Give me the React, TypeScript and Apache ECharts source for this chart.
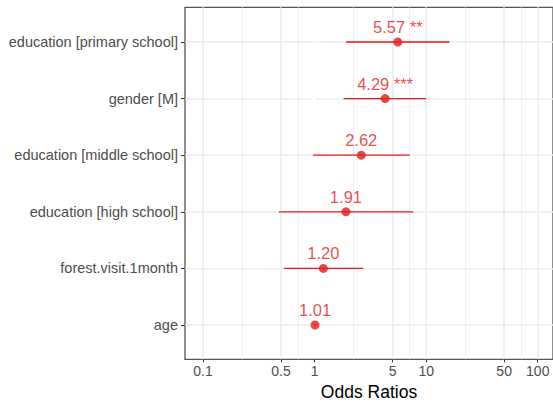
import React, { useEffect, useRef } from "react";
import * as echarts from "echarts";

// Terms, bottom to top as they appear on the category axis
const terms = [
  "age",
  "forest.visit.1month",
  "education [high school]",
  "education [middle school]",
  "gender [M]",
  "education [primary school]",
];
const estimates = [1.01, 1.2, 1.91, 2.62, 4.29, 5.57];
const ciLow = [0.99, 0.53, 0.48, 0.97, 1.82, 1.92];
const ciHigh = [1.03, 2.73, 7.66, 7.11, 10.0, 16.2];
const stars = ["", "", "", "", "***", "**"];

// x-axis breaks
const majorBreaks = [0.1, 0.5, 1, 5, 10, 50, 100];
const minorBreaks = [0.2239, 0.7079, 2.2387, 7.0795, 22.387, 70.795];
const referenceValue = 1;

const X_MIN = 0.069;
const X_MAX = 137;
const RED = "#e41a1c";
const FONT = "'Liberation Sans', Arial, sans-serif";
const GRID_COLOR = "#ebebeb";

export default function App() {
  const ref = useRef<HTMLDivElement>(null);

  useEffect(() => {
    if (!ref.current) return;
    const chart = echarts.init(ref.current, null, { renderer: "svg" });

    const fmt = (v: number) => String(parseFloat(Number(v).toPrecision(6)));

    const hiddenLog = (gridIndex: number) => ({
      type: "log" as const,
      logBase: 10,
      gridIndex,
      min: X_MIN,
      max: X_MAX,
      position: "bottom" as const,
      axisLine: { show: false },
      axisLabel: { show: false },
      axisTick: { show: false },
      splitLine: { show: false },
    });

    const option: any = {
      animation: false,
      backgroundColor: "#ffffff",
      textStyle: { fontFamily: FONT },
      grid: [
        {
          left: 185,
          right: -3.5,
          top: 7.3,
          bottom: 47.7,
          show: true,
          borderColor: "#555555",
          borderWidth: 1.3,
          backgroundColor: "transparent",
        },
        {
          left: 185,
          right: -3.5,
          top: 42,
          bottom: 82,
          show: false,
        },
      ],
      xAxis: [
        {
          ...hiddenLog(0),
          axisTick: {
            show: true,
            customValues: majorBreaks,
            length: 3,
            lineStyle: { color: "#333333", width: 1 },
          },
          axisLabel: {
            show: true,
            customValues: majorBreaks,
            formatter: (v: number) => fmt(v),
            color: "#4d4d4d",
            fontSize: 14,
            fontFamily: FONT,
            margin: 5,
          },
          name: "Odds Ratios",
          nameLocation: "middle",
          nameGap: 24,
          nameTextStyle: { color: "#000000", fontSize: 17.5, fontFamily: FONT },
          z: 5,
        },
        {
          ...hiddenLog(0),
          axisTick: {
            show: false,
            customValues: majorBreaks.filter((v) => v !== referenceValue),
          },
          splitLine: { show: true, lineStyle: { color: GRID_COLOR, width: 1.5 } },
        },
        {
          ...hiddenLog(0),
          axisTick: { show: false, customValues: minorBreaks },
          splitLine: { show: true, lineStyle: { color: GRID_COLOR, width: 0.8 } },
        },
        hiddenLog(1),
      ],
      yAxis: [
        {
          type: "value",
          gridIndex: 0,
          min: 0,
          max: 1,
          show: false,
          splitLine: { show: false },
        },
        {
          type: "category",
          gridIndex: 1,
          data: terms,
          boundaryGap: false,
          axisLine: { show: false },
          axisTick: {
            show: true,
            interval: 0,
            length: 4,
            lineStyle: { color: "#333333", width: 1 },
          },
          axisLabel: {
            interval: 0,
            color: "#4d4d4d",
            fontSize: 14.5,
            fontFamily: FONT,
            margin: 7,
          },
          splitLine: {
            show: true,
            interval: 0,
            lineStyle: { color: GRID_COLOR, width: 1.5 },
          },
        },
      ],
      series: [
        {
          type: "custom",
          name: "ci",
          xAxisIndex: 3,
          yAxisIndex: 1,
          z: 2,
          data: terms.map((_, i) => [ciLow[i], i, ciHigh[i]]),
          encode: { x: [0, 2], y: 1 },
          renderItem: (_params: any, api: any) => {
            const y = api.value(1);
            const p1 = api.coord([api.value(0), y]);
            const p2 = api.coord([api.value(2), y]);
            return {
              type: "line",
              shape: { x1: p1[0], y1: p1[1], x2: p2[0], y2: p2[1] },
              style: { stroke: RED, lineWidth: 1.3 },
            };
          },
        },
        {
          type: "scatter",
          name: "estimate",
          xAxisIndex: 3,
          yAxisIndex: 1,
          z: 3,
          symbol: "circle",
          symbolSize: 9,
          itemStyle: { color: RED },
          data: terms.map((t, i) => [estimates[i], t]),
          label: {
            show: true,
            position: "top",
            distance: 2,
            color: RED,
            fontSize: 16.5,
            fontFamily: FONT,
            formatter: (p: any) =>
              estimates[p.dataIndex].toFixed(2) +
              (stars[p.dataIndex] ? " " + stars[p.dataIndex] : ""),
          },
          markLine: {
            silent: true,
            z: 1,
            symbol: ["none", "none"],
            label: { show: false },
            lineStyle: { color: "#ffffff", width: 3, type: "solid" },
            data: [{ xAxis: referenceValue }],
          },
        },
      ],
    };

    chart.setOption(option);
    return () => chart.dispose();
  }, []);

  return (
    <div
      ref={ref}
      style={{
        position: "fixed",
        left: 0,
        top: 0,
        width: 553,
        height: 407,
        background: "#ffffff",
      }}
    />
  );
}
